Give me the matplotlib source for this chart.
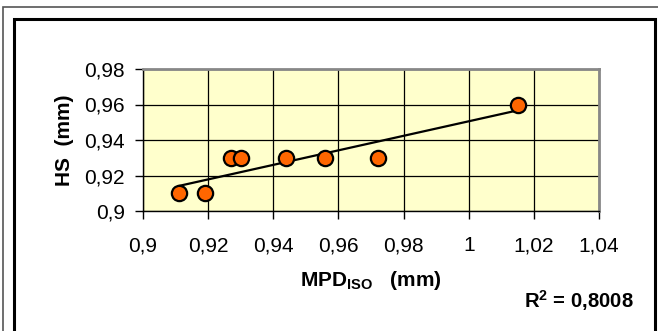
import matplotlib
matplotlib.use("Agg")
import matplotlib.pyplot as plt
from matplotlib.patches import Rectangle
import numpy as np

plt.rcParams['font.family'] = ['Liberation Sans', 'DejaVu Sans']
plt.rcParams['mathtext.fontset'] = 'custom'
plt.rcParams['mathtext.rm'] = 'Liberation Sans'
plt.rcParams['mathtext.bf'] = 'Liberation Sans:bold'

# data
mpd = [0.911, 0.919, 0.927, 0.930, 0.944, 0.956, 0.972, 1.015]
hs = [0.91, 0.91, 0.93, 0.93, 0.93, 0.93, 0.93, 0.96]

x_ticks = [0.90, 0.92, 0.94, 0.96, 0.98, 1.00, 1.02, 1.04]
x_tick_labels = ['0,9', '0,92', '0,94', '0,96', '0,98', '1', '1,02', '1,04']
y_ticks = [0.90, 0.92, 0.94, 0.96, 0.98]
y_tick_labels = ['0,9', '0,92', '0,94', '0,96', '0,98']
r2_text = r'R$^\mathbf{2}$ = 0,8008'

W, H = 658, 331
fs = 15
fig = plt.figure(figsize=(W / 100, H / 100), dpi=100)

# outer frames
fig.add_artist(Rectangle((3 / W, -0.1), 1.2, (H - 7) / H + 0.1, transform=fig.transFigure,
                         fill=False, edgecolor='#555555', linewidth=1.2))
fig.add_artist(Rectangle((14 / W, -0.1), (655 - 14) / W, (H - 19) / H + 0.1,
                         transform=fig.transFigure, fill=False, edgecolor='black', linewidth=2.2))

ax = fig.add_axes([143 / W, (H - 211) / H, (599 - 143) / W, (211 - 69) / H])
ax.set_facecolor('#FFFFCC')

ax.grid(True, color='black', linewidth=0.9)
ax.set_axisbelow(True)

# trend line
k, b = np.polyfit(mpd, hs, 1)
xs = np.array([min(mpd), max(mpd)])
ax.plot(xs, k * xs + b, color='black', linewidth=1.6, zorder=3)

ax.plot(mpd, hs, linestyle='none', marker='o', markersize=11,
        markerfacecolor='#FF6600', markeredgecolor='black', markeredgewidth=1.6, zorder=4)

ax.set_xlim(0.90, 1.04)
ax.set_ylim(0.90, 0.98)
ax.set_xticks(x_ticks)
ax.set_xticklabels(x_tick_labels)
ax.set_yticks(y_ticks)
ax.set_yticklabels(y_tick_labels)
ax.tick_params(direction='out', length=6, width=1, color='black', labelsize=fs)
ax.tick_params(axis='y', pad=7)
ax.tick_params(axis='x', pad=12)

for s in ['top', 'right']:
    ax.spines[s].set_color('#888888')
    ax.spines[s].set_linewidth(2)
for s in ['left', 'bottom']:
    ax.spines[s].set_color('black')
    ax.spines[s].set_linewidth(1)

ax.set_ylabel('HS  (mm)', fontsize=fs, fontweight='bold', va='center')
ax.yaxis.set_label_coords((65 - 143) / 456, 0.5)
ax.set_xlabel(r'$\mathbf{MPD_{ISO}}$   (mm)', fontsize=fs, fontweight='bold', va='center')
ax.xaxis.set_label_coords(0.5, (211 - 280) / 142)

fig.text(634 / W, 1 - 301 / H, r2_text, fontsize=14.6, fontweight='bold',
         ha='right', va='center')

fig.savefig('out.png', dpi=100)
